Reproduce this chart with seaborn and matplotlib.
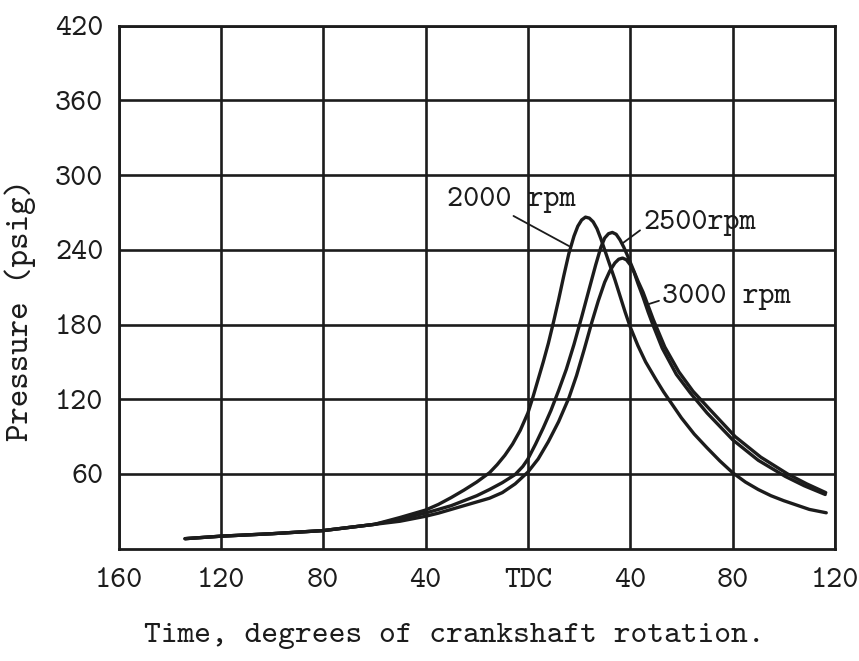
import matplotlib
matplotlib.use("Agg")
import matplotlib.pyplot as plt
import pandas as pd
import seaborn as sns

# Crank angle in degrees (negative = before TDC) and cylinder pressure in psig
deg_2000 = [-134, -120, -100, -80, -60, -50, -40, -35, -30, -25, -20, -15, -12, -9, -6, -3, 0,
            2, 4, 6, 8, 10, 12, 14, 16, 18, 19.5, 21, 22.5, 24, 25.5, 27, 28.5, 30, 32,
            34, 36, 38, 40, 43, 46, 50, 53, 56, 60, 65, 70, 75, 80, 85, 90, 95, 100,
            105, 110, 116.6]
psi_2000 = [8, 10, 12, 14.5, 19.5, 25, 31, 35.5, 41, 47, 53.5, 61, 67.5, 75, 84, 95, 109,
            122, 136, 150, 165, 182, 200, 219, 237, 251, 259, 264, 266.3, 265.5, 262.5, 257, 249, 240, 228,
            216, 203, 190, 178, 163, 150, 136, 126, 117, 105, 92, 81, 70.5, 61, 53.5, 47.5, 42.5, 38.5,
            35, 31.5, 28.8]

deg_2500 = [-134, -120, -100, -80, -60, -50, -40, -35, -30, -25, -20, -15, -10, -5, -2, 0,
            3, 6, 9, 12, 15, 18, 21, 24, 26.5, 28.5, 30, 31.5, 33, 34.5, 36, 37.5, 39,
            41, 43, 45, 49, 53.5, 59, 64.5, 71, 81, 91, 101.5, 109, 116.4]
psi_2500 = [8, 10, 12, 14.5, 19.5, 23.7, 28.6, 31.5, 34.5, 38.5, 42.5, 47.5, 53, 59.5, 66, 72,
            84, 97, 111, 127, 144, 164, 186, 209, 228, 242, 249.5, 253, 254, 252.5, 248, 242, 235,
            225, 215, 206, 184, 162, 142, 126.5, 112, 90, 73.5, 60, 52, 45]

deg_3000 = [-134, -120, -100, -80, -60, -50, -40, -35, -30, -25, -20, -15, -10, -5, 0,
            4, 8, 12, 16, 19, 22, 25, 27.5, 30, 32, 34, 35.5, 37, 38.5, 40, 41.5, 43,
            45, 47, 49, 52.5, 58, 63.5, 70, 80, 90, 100.6, 108, 116.2]
psi_3000 = [8, 10, 12, 14.5, 19.5, 22, 26, 28.5, 31.5, 34.5, 37.5, 40.5, 45, 52, 61.5,
            72, 86, 102, 121, 139, 160, 182, 199, 214, 223, 229.5, 232.5, 233.4, 232, 228, 222, 213,
            202, 190, 179, 161, 140, 125, 109, 87.5, 71, 58, 50.5, 43.5]

speed_labels = ["2000 rpm", "2500rpm", "3000 rpm"]

x_ticks = [-160, -120, -80, -40, 0, 40, 80, 120]
x_tick_labels = ["160", "120", "80", "40", "TDC", "40", "80", "120"]
y_ticks = [60, 120, 180, 240, 300, 360, 420]
y_tick_labels = ["60", "120", "180", "240", "300", "360", "420"]

frames = []
for name, d, p in zip(speed_labels, [deg_2000, deg_2500, deg_3000],
                      [psi_2000, psi_2500, psi_3000]):
    frames.append(pd.DataFrame({"deg": d, "psi": p, "speed": name}))
df = pd.concat(frames, ignore_index=True)

sns.set_style("white")
plt.rcParams["font.family"] = ["cmtt10", "Liberation Mono", "DejaVu Sans"]
plt.rcParams["axes.unicode_minus"] = False
ink = "#1c1c1c"

fig = plt.figure(figsize=(8.59, 6.61), dpi=100)
ax = fig.add_axes([0.138, 0.170, 0.834, 0.791])

sns.lineplot(data=df, x="deg", y="psi", hue="speed", palette=[ink] * 3,
             sort=False, estimator=None, linewidth=2.4, legend=False, ax=ax)

ax.set_xlim(-160, 120)
ax.set_ylim(0, 420)
ax.set_xticks(x_ticks)
ax.set_xticklabels(x_tick_labels)
ax.set_yticks(y_ticks)
ax.set_yticklabels(y_tick_labels)
ax.grid(True, color=ink, linewidth=1.9)
ax.set_axisbelow(True)
for s in ax.spines.values():
    s.set_visible(True)
    s.set_color(ink)
    s.set_linewidth(2.0)

ax.tick_params(axis="x", direction="out", length=4, width=1.6, color=ink,
               labelsize=22, labelcolor=ink, pad=10)
ax.tick_params(axis="y", direction="out", length=7, width=1.6, color=ink,
               labelsize=22, labelcolor=ink, pad=4)

ax.set_xlabel("Time, degrees of crankshaft rotation.", fontsize=23, color=ink)
ax.set_ylabel("Pressure (psig)", fontsize=24, color=ink)
ax.xaxis.set_label_coords(0.468, -0.142)
ax.yaxis.set_label_coords(-0.115, 0.456)

leader = dict(arrowstyle="-", color=ink, lw=1.3, shrinkA=0, shrinkB=0)
ax.annotate("2000 rpm", xy=(16.1, 243), xytext=(-31.6, 280.3),
            fontsize=22, color=ink, va="center", ha="left",
            arrowprops=dict(leader, relpos=(0.47, 0.0)))
ax.annotate("2500rpm", xy=(36.8, 245), xytext=(45.1, 261.8),
            fontsize=22, color=ink, va="center", ha="left",
            arrowprops=dict(leader, relpos=(0.0, 0.3)))
ax.annotate("3000 rpm", xy=(46.5, 196), xytext=(52.5, 202),
            fontsize=22, color=ink, va="center", ha="left",
            arrowprops=dict(leader, relpos=(0.0, 0.4)))

fig.savefig("out.png", dpi=100, facecolor="white")
